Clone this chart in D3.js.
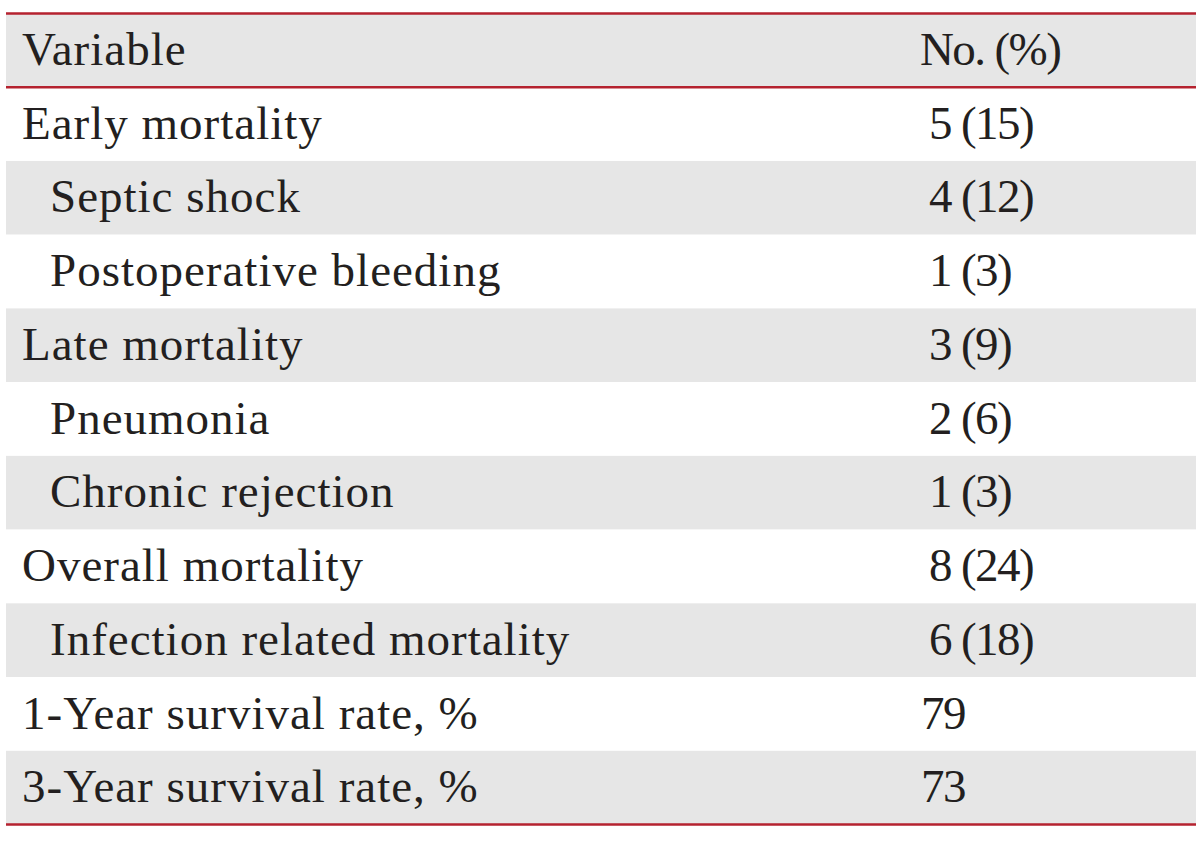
<!DOCTYPE html>
<html><head><meta charset="utf-8">
<script src="https://cdn.jsdelivr.net/npm/d3@7"></script>
<style>body{margin:0;background:#fff}svg{display:block}</style>
</head><body>
<svg id="chart" width="1200" height="843"></svg>
<script>
const headers = ["Variable", "No. (%)"];
const variables = ["Early mortality","Septic shock","Postoperative bleeding","Late mortality","Pneumonia","Chronic rejection","Overall mortality","Infection related mortality","1-Year survival rate, %","3-Year survival rate, %"];
const values = ["5 (15)","4 (12)","1 (3)","3 (9)","2 (6)","1 (3)","8 (24)","6 (18)","79","73"];
const indentLevel = [0,1,1,0,1,1,0,1,0,0];

(function(){
const svg = d3.select("#chart");
const x0 = 6, x1 = 1196, y0 = 13.5, y1 = 824.5;
const rowsAll = ["__header"].concat(variables);
const y = d3.scaleBand().domain(rowsAll).range([y0, y1]);
const font = "'Liberation Serif', serif";
const fs = 47;
const ink = "#231f20";

const rows = svg.selectAll("g.row").data(rowsAll).join("g").attr("class","row")
  .attr("transform", d => `translate(0,${y(d)})`);
rows.append("rect").attr("x", x0).attr("width", x1-x0).attr("height", y.bandwidth())
  .attr("fill", (d,i) => i % 2 === 0 ? "#e6e6e6" : "#ffffff");

const baseOff = 51.5;
const hdr = svg.append("g").attr("transform", `translate(0,${y("__header")})`);
hdr.append("text").attr("x", 22).attr("y", baseOff).text(headers[0])
  .attr("font-family", font).attr("font-size", fs).attr("fill", ink).attr("letter-spacing", 1);
hdr.append("text").attr("x", 920).attr("y", baseOff).text(headers[1])
  .attr("font-family", font).attr("font-size", fs).attr("fill", ink).attr("letter-spacing", -1.6);

const body = svg.selectAll("g.body").data(variables).join("g").attr("class","body")
  .attr("transform", d => `translate(0,${y(d)})`);
body.append("text").attr("x", (d,i) => 22 + indentLevel[i]*28).attr("y", baseOff)
  .attr("font-family", font).attr("font-size", fs).attr("fill", ink).attr("letter-spacing", 1).text(d => d);
body.append("text").attr("x", (d,i) => values[i].includes("(") ? 929 : 921).attr("y", baseOff)
  .attr("font-family", font).attr("font-size", fs).attr("fill", ink).attr("letter-spacing", -1.6).text((d,i) => values[i]);

const lines = [y0, y(variables[0]), y1];
svg.selectAll("line.rule").data(lines).join("line").attr("class","rule")
  .attr("x1", x0).attr("x2", x1).attr("y1", d => d).attr("y2", d => d)
  .attr("stroke", "#b5222f").attr("stroke-width", 2.5);
})();
</script>
</body></html>
